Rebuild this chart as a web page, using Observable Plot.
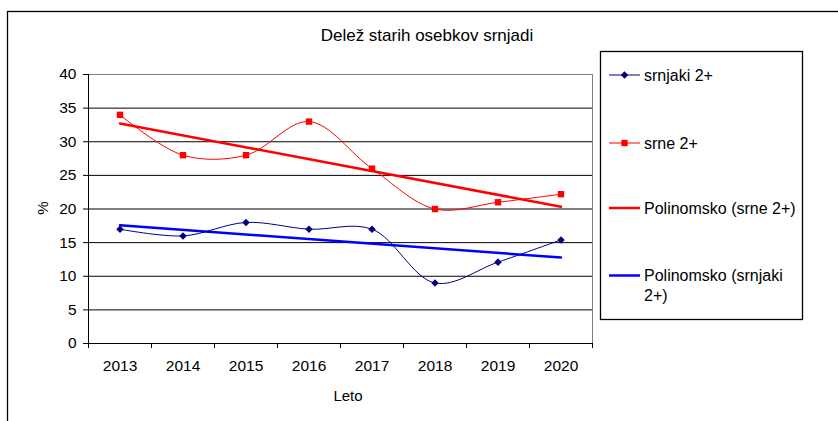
<!DOCTYPE html>
<html>
<head>
<meta charset="utf-8">
<script src="https://cdn.jsdelivr.net/npm/d3@7"></script>
<script src="https://cdn.jsdelivr.net/npm/@observablehq/plot@0.6"></script>
<style>
  body { margin: 0; background: #fff; }
  svg { font-family: "Liberation Sans", Arial, sans-serif; }
</style>
</head>
<body>
<div id="chart"></div>
<script>
const years = [2013, 2014, 2015, 2016, 2017, 2018, 2019, 2020];
const srnjaki = [17, 16, 18, 17, 17, 9, 12.1, 15.4];
const srne = [34, 28, 28, 33, 26, 20, 21, 22.2];
const yTicks = [0, 5, 10, 15, 20, 25, 30, 35, 40];
const titleText = "Delež starih osebkov srnjadi";
const xLabel = "Leto";
const yLabel = "%";
const legendLabels = ["srnjaki 2+", "srne 2+", "Polinomsko (srne 2+)", ["Polinomsko (srnjaki", "2+)"]];

const dataM = years.map((y, i) => ({year: y, v: srnjaki[i]}));
const dataF = years.map((y, i) => ({year: y, v: srne[i]}));
const bounds = d3.range(years[0] - 0.5, years[years.length - 1] + 1, 1);

const W = 838, H = 421;
const chart = Plot.plot({
  width: W,
  height: H,
  marginLeft: 88,
  marginRight: 246,
  marginTop: 74,
  marginBottom: 78,
  style: {fontFamily: '"Liberation Sans", Arial, sans-serif', fontSize: "15px", color: "#000", background: "#fff"},
  x: {domain: [bounds[0], bounds[bounds.length - 1]]},
  y: {domain: [0, 40]},
  marks: [
    Plot.gridY(yTicks.filter(d => d > 0 && d < 40), {stroke: "#000", strokeOpacity: 1, strokeWidth: 1}),
    Plot.ruleY([40], {stroke: "#808080"}),
    Plot.ruleX([bounds[bounds.length - 1]], {stroke: "#808080"}),
    Plot.axisY(yTicks, {tickSize: 5, tickPadding: 7, label: null, stroke: "#000", fontSize: 15.5}),
    Plot.axisX(years, {tickSize: 0, tickPadding: 16, label: null, tickFormat: d => String(d), fontSize: 15.5}),
    Plot.axisX(bounds, {tickSize: 5, tickFormat: () => "", label: null, stroke: "#000"}),
    Plot.ruleY([0], {stroke: "#000"}),
    Plot.ruleX([bounds[0]], {stroke: "#000"}),
    Plot.linearRegressionY(dataF, {x: "year", y: "v", stroke: "#FF0000", strokeWidth: 2.5, ci: 0}),
    Plot.linearRegressionY(dataM, {x: "year", y: "v", stroke: "#0000FF", strokeWidth: 2.5, ci: 0}),
    Plot.line(dataF, {x: "year", y: "v", curve: "catmull-rom", stroke: "#FF0000", strokeWidth: 1}),
    Plot.line(dataM, {x: "year", y: "v", curve: "catmull-rom", stroke: "#000080", strokeWidth: 1}),
    Plot.dot(dataF, {x: "year", y: "v", symbol: "square", r: 3.6, fill: "#FF0000", stroke: "none"}),
    Plot.dot(dataM, {x: "year", y: "v", symbol: "diamond2", r: 3.4, fill: "#000080", stroke: "none"})
  ]
});

const svg = d3.select(chart);
svg.attr("font-family", '"Liberation Sans", Arial, sans-serif');
// outer border
svg.insert("rect", ":first-child").attr("x", 7.5).attr("y", 11.5).attr("width", 840).attr("height", 420)
  .attr("fill", "none").attr("stroke", "#000").attr("stroke-width", 1.3);
// title
svg.append("text").attr("x", 427).attr("y", 35).attr("text-anchor", "middle").attr("dominant-baseline", "central")
  .attr("font-size", 17).attr("fill", "#000").text(titleText);
// axis labels
svg.append("text").attr("x", 348).attr("y", 395).attr("text-anchor", "middle").attr("dominant-baseline", "central")
  .attr("font-size", 15).attr("fill", "#000").text(xLabel);
svg.append("text").attr("transform", "translate(42,208) rotate(-90)").attr("text-anchor", "middle").attr("dominant-baseline", "central")
  .attr("font-size", 15).attr("fill", "#000").text(yLabel);
// legend
const lg = svg.append("g");
lg.append("rect").attr("x", 600.5).attr("y", 51.5).attr("width", 202).attr("height", 268)
  .attr("fill", "#fff").attr("stroke", "#000").attr("stroke-width", 1.3);
const entries = [
  {y: 75, color: "#000080", w: 1, marker: "diamond"},
  {y: 143, color: "#FF0000", w: 1, marker: "square"},
  {y: 208, color: "#FF0000", w: 2.5, marker: null},
  {y: 275.5, color: "#0000FF", w: 2.5, marker: null}
];
entries.forEach((e, i) => {
  lg.append("line").attr("x1", 609).attr("x2", 640).attr("y1", e.y).attr("y2", e.y)
    .attr("stroke", e.color).attr("stroke-width", e.w);
  if (e.marker === "diamond") {
    lg.append("path").attr("transform", `translate(624.5,${e.y})`).attr("d", d3.symbol(d3.symbolDiamond2, 36)()).attr("fill", e.color);
  } else if (e.marker === "square") {
    lg.append("path").attr("transform", `translate(624.5,${e.y})`).attr("d", d3.symbol(d3.symbolSquare, 40)()).attr("fill", e.color);
  }
  const lab = legendLabels[i];
  const lines = Array.isArray(lab) ? lab : [lab];
  lines.forEach((t, j) => {
    lg.append("text").attr("x", 644).attr("y", e.y + j * 19.5).attr("text-anchor", "start").attr("dominant-baseline", "central")
      .attr("font-size", 16).attr("fill", "#000").text(t);
  });
});

document.getElementById("chart").appendChild(chart);
</script>
</body>
</html>
